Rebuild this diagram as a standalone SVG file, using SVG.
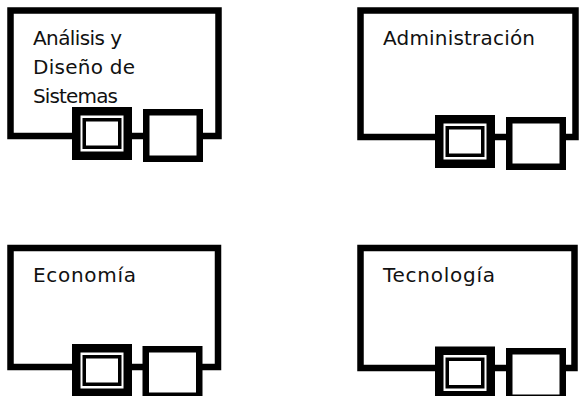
<svg xmlns="http://www.w3.org/2000/svg" xmlns:xlink="http://www.w3.org/1999/xlink" width="579" height="396" viewBox="0 0 579 396">
  <style>
    .frame { fill: #ffffff; stroke: #000000; stroke-width: 6.5; }
    .lbl { font-family: "DejaVu Sans", "Liberation Sans", sans-serif; font-size: 20px; fill: #111111; }
  </style>
  <defs>
    <g id="dbox">
      <rect x="4.25" y="4.25" width="51.5" height="44.5" fill="#ffffff" stroke="#000000" stroke-width="8.5"/>
      <rect x="12.25" y="12.75" width="35.5" height="27.5" fill="none" stroke="#000000" stroke-width="3.5"/>
    </g>
    <g id="sbox">
      <rect x="3.25" y="3.25" width="53.5" height="46.5" fill="#ffffff" stroke="#000000" stroke-width="6.5"/>
    </g>
  </defs>
  <rect width="579" height="396" fill="#ffffff"/>

  <g id="node-analisis">
    <rect class="frame" x="10.5" y="10.5" width="208" height="125.5"/>
    <use xlink:href="#dbox" href="#dbox" x="72" y="107"/>
    <use xlink:href="#sbox" href="#sbox" x="143" y="109"/>
    <text class="lbl" x="33" y="45" textLength="89" lengthAdjust="spacing">Análisis y</text>
    <text class="lbl" x="33" y="74" textLength="102" lengthAdjust="spacing">Diseño de</text>
    <text class="lbl" x="33" y="103" textLength="85" lengthAdjust="spacing">Sistemas</text>
  </g>

  <g id="node-administracion">
    <rect class="frame" x="360.5" y="10.5" width="215" height="126.5"/>
    <use xlink:href="#dbox" href="#dbox" x="435" y="115"/>
    <use xlink:href="#sbox" href="#sbox" x="506" y="117"/>
    <text class="lbl" x="383" y="45" textLength="152" lengthAdjust="spacing">Administración</text>
  </g>

  <g id="node-economia">
    <rect class="frame" x="10.5" y="248" width="207.5" height="119"/>
    <use xlink:href="#dbox" href="#dbox" x="72" y="344"/>
    <use xlink:href="#sbox" href="#sbox" x="142.5" y="346"/>
    <text class="lbl" x="33" y="282" textLength="103" lengthAdjust="spacing">Economía</text>
  </g>

  <g id="node-tecnologia">
    <rect class="frame" x="360.5" y="248" width="214" height="120"/>
    <use xlink:href="#dbox" href="#dbox" x="435" y="346.5"/>
    <use xlink:href="#sbox" href="#sbox" x="506" y="348"/>
    <text class="lbl" x="383" y="282" textLength="112" lengthAdjust="spacing">Tecnología</text>
  </g>

  <g id="connectors"></g>
</svg>
